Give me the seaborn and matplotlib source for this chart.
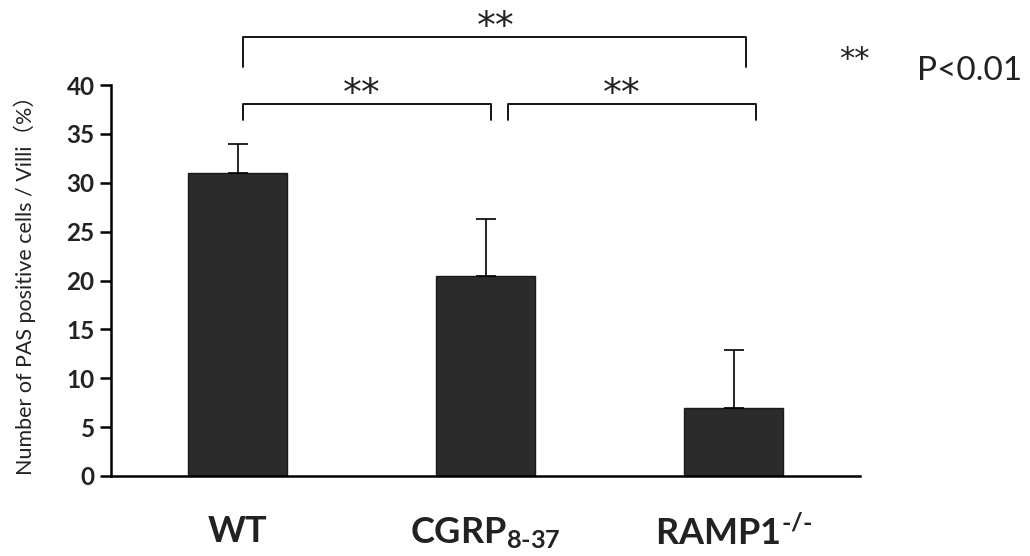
import numpy as np
import pandas as pd
import matplotlib
matplotlib.use('Agg')
import matplotlib.pyplot as plt
import seaborn as sns

sns.set_style('white')
plt.rcParams['font.family'] = ['Lato', 'Noto Sans CJK JP', 'DejaVu Sans']
plt.rcParams['mathtext.fontset'] = 'custom'
plt.rcParams['mathtext.rm'] = 'Lato:bold'
plt.rcParams['mathtext.it'] = 'Lato:bold'
plt.rcParams['mathtext.bf'] = 'Lato:bold'

# データ
groups = ['WT', 'CGRP', 'RAMP1']
group_labels = ['WT', r'CGRP$_{\text{8-37}}$', r'RAMP1$^{\text{-/-}}$']
means = [31.0, 20.5, 7.0]
errs = [3.0, 5.8, 5.9]
yticks = [0, 5, 10, 15, 20, 25, 30, 35, 40]
sig_marks = ['**', '**', '**']

df = pd.DataFrame({'group': groups, 'value': means})

fig = plt.figure(figsize=(10.3, 5.56), dpi=100)
ax = fig.add_axes([0.108, 0.144, 0.727, 0.703])

sns.barplot(data=df, x='group', y='value', color='#2b2b2b', width=0.4,
            edgecolor='#1a1a1a', linewidth=1, ax=ax, errorbar=None, saturation=1)
# 上側だけのエラーバー
ax.errorbar(range(len(groups)), means, yerr=[np.zeros(len(errs)), errs], fmt='none',
            ecolor='black', elinewidth=1.2, capsize=7, capthick=1.2)

ax.set_xlim(-0.51, 2.51)
ax.set_ylim(0, 40)
ax.set_yticks(yticks)
ax.set_yticklabels([str(t) for t in yticks], fontsize=17.5, fontweight='bold', color='#222222')
ax.set_xticks(range(len(groups)))
ax.set_xticklabels(group_labels, fontsize=26, fontweight='bold', color='#222222')
ax.set_xticks([-0.51, 0.5, 1.5, 2.51], minor=True)
ax.tick_params(axis='x', which='major', length=0, pad=28)
ax.tick_params(axis='x', which='minor', length=8, width=1.8, direction='out', color='black')
ax.tick_params(axis='y', length=8, width=1.8, direction='out', color='black', pad=4, left=True)
ax.set_xlabel('')
ax.set_ylabel('Number of PAS positive cells / Villi（%）', fontsize=15.5, color='#222222', labelpad=22)

for s in ['top', 'right']:
    ax.spines[s].set_visible(False)
for s in ['left', 'bottom']:
    ax.spines[s].set_color('black')
    ax.spines[s].set_linewidth(1.8)

# 有意差ブラケット (x1, x2, 上端, 下端, 記号x, 記号y)
bracket_specs = [
    (0.02, 2.05, 44.9, 41.9, 1.04, 44.8),
    (0.02, 1.02, 38.1, 36.4, 0.50, 38.0),
    (1.09, 2.09, 38.1, 36.4, 1.55, 38.0),
]
for (x1, x2, ytop, ybot, xs, ys), mark in zip(bracket_specs, sig_marks):
    ax.plot([x1, x1, x2, x2], [ybot, ytop, ytop, ybot], color='black', lw=1.3, clip_on=False)
    ax.text(xs, ys, mark, ha='center', va='baseline', fontsize=27, color='#222222',
            family='DejaVu Sans', clip_on=False)

fig.text(0.815, 0.878, '**', ha='left', va='baseline', fontsize=22, color='#222222', family='DejaVu Sans')
fig.text(0.89, 0.873, 'P<0.01', ha='left', va='center', fontsize=24, color='#222222')

fig.savefig('out.png', dpi=100)
